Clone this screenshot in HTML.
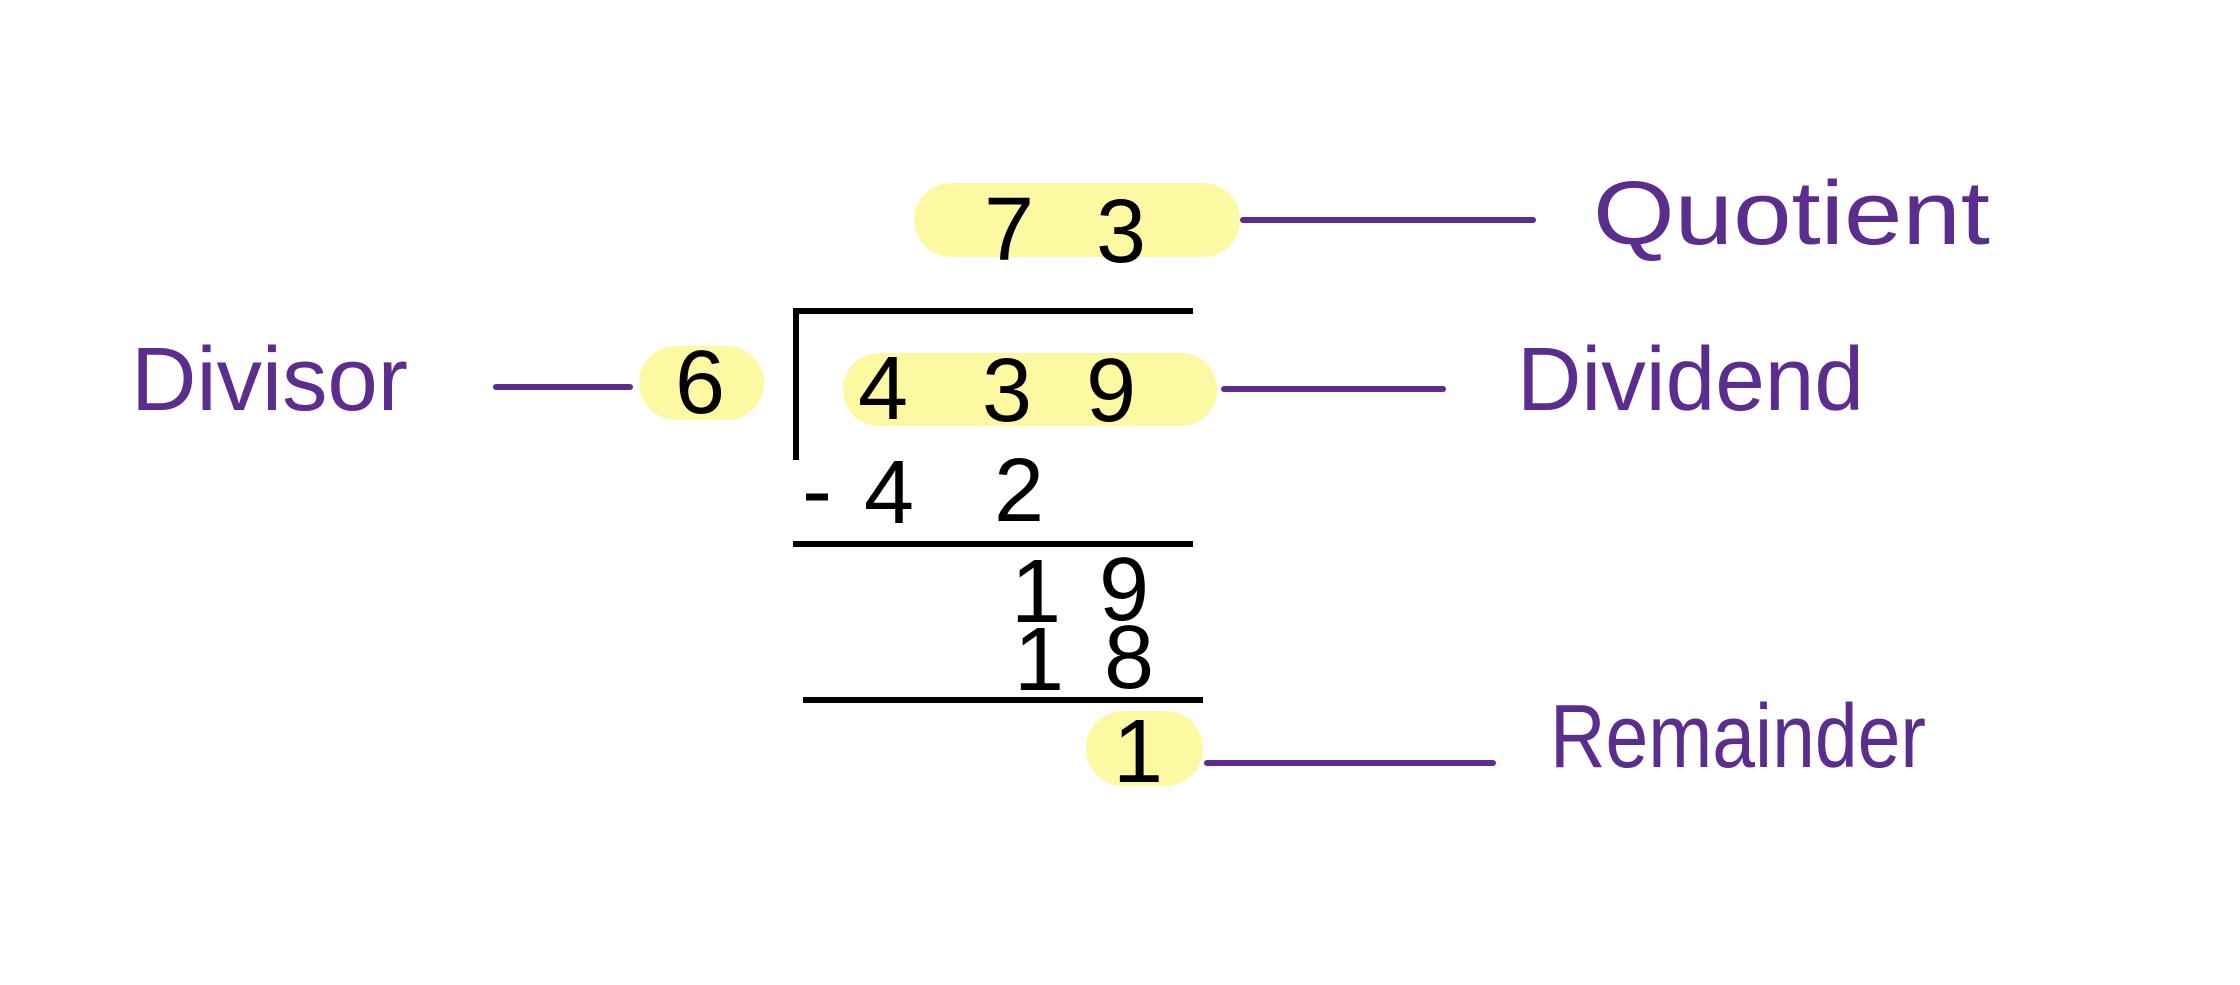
<!DOCTYPE html>
<html><head><meta charset="utf-8"><style>
html,body{margin:0;padding:0;background:#fff;}
svg{display:block;}
.p{fill:#5b2d8e;font-family:"Liberation Sans",sans-serif;font-size:90px;}
.d{fill:#000;font-family:"Liberation Sans",sans-serif;font-size:90px;text-anchor:middle;dominant-baseline:central;}
.ln{stroke:#5b2d8e;stroke-width:6;stroke-linecap:round;}
.bk{stroke:#000;stroke-width:6;}
.pill{fill:#fdf9a3;}
</style></head><body>
<svg width="2240" height="985" viewBox="0 0 2240 985">
<rect x="914" y="183" width="326" height="74" rx="37" class="pill"/>
<rect x="639" y="346" width="125" height="74" rx="37" class="pill"/>
<rect x="843" y="353" width="374" height="73" rx="36" class="pill"/>
<rect x="1086" y="711" width="117" height="75" rx="37" class="pill"/>

<line x1="793" y1="311" x2="1193" y2="311" class="bk"/>
<line x1="796" y1="309" x2="796" y2="460" class="bk"/>
<line x1="793" y1="544" x2="1193" y2="544" class="bk"/>
<line x1="803" y1="700" x2="1203" y2="700" class="bk"/>

<g>
<text x="1009" y="230" class="d">7</text><text x="1121" y="232" class="d">3</text></g>
<text x="700" y="383" class="d" font-size="100">6</text>
<g>
<text x="883" y="389" class="d">4</text><text x="1007" y="391" class="d">3</text><text x="1111" y="391" class="d">9</text></g>
<g>
<text x="817" y="491" class="d">-</text><text x="889" y="493" class="d">4</text><text x="1019" y="491" class="d">2</text></g>
<g>
<text x="1036" y="592" class="d">1</text><text x="1124" y="590" class="d">9</text></g>
<g>
<text x="1039" y="660" class="d">1</text><text x="1129" y="658" class="d">8</text></g>
<text x="1138" y="752" class="d">1</text>

<line x1="1243" y1="220" x2="1533" y2="220" class="ln"/>
<line x1="496" y1="387" x2="630" y2="387" class="ln"/>
<line x1="1224" y1="389" x2="1443" y2="389" class="ln"/>
<line x1="1207" y1="763" x2="1493" y2="763" class="ln"/>

<text x="1593" y="244" class="p" textLength="397" lengthAdjust="spacingAndGlyphs">Quotient</text>
<text x="131" y="410" class="p" textLength="277" lengthAdjust="spacingAndGlyphs">Divisor</text>
<text x="1517" y="410" class="p" textLength="347" lengthAdjust="spacingAndGlyphs">Dividend</text>
<text x="1550" y="767" class="p" textLength="376" lengthAdjust="spacingAndGlyphs">Remainder</text>
</svg>
</body></html>
